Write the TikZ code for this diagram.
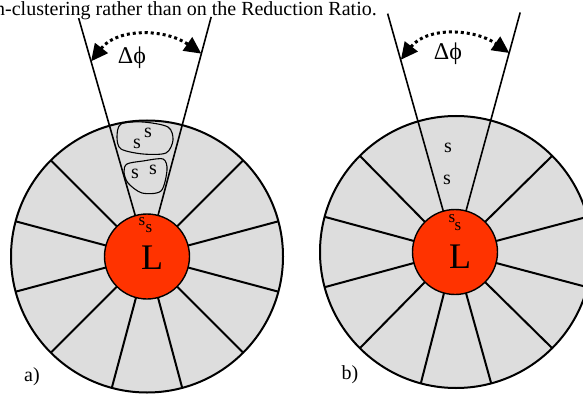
\documentclass[tikz,border=0pt]{standalone}
\usepackage{fontspec}
\setmainfont{Liberation Serif}
\usetikzlibrary{arrows.meta}
\definecolor{diskgray}{RGB}{221,221,221}
\definecolor{corered}{RGB}{255,51,0}
\tikzset{
  disk/.style={circle, draw, line width=2pt, fill=diskgray, minimum size=272pt, inner sep=0pt, outer sep=0pt},
  core/.style={circle, draw, line width=1.4pt, fill=corered, minimum size=85pt, inner sep=0pt, outer sep=0pt},
  spoke/.style={line width=2pt},
  wedge/.style={line width=1.6pt},
  blob/.style={line width=1.1pt},
  dphi/.style={line width=3pt, dash pattern=on 3pt off 3pt, {Triangle[length=17pt,width=16pt]}-{Triangle[length=17pt,width=16pt]}},
  txt/.style={font=\fontsize{20}{24}\selectfont, inner sep=0pt},
  dtxt/.style={font=\fontsize{24}{28}\selectfont, inner sep=0pt},
  stxt/.style={font=\fontsize{20}{22}\selectfont, inner sep=0pt},
  smalls/.style={font=\fontsize{17}{19}\selectfont, inner sep=0pt},
  bigL/.style={font=\fontsize{36}{40}\selectfont, inner sep=0pt}
}
\begin{document}
\begin{tikzpicture}[x=1pt,y=1pt]
\useasboundingbox (0,0) rectangle (583,394);
\clip (0,0) rectangle (583,394);

\node[txt, anchor=base west] (caption) at (-5,378) {n-clustering rather than on the Reduction Ratio.};

% ---------- panel a ----------
\node[disk] (diskA) at (147,137.5) {};
\node[core] (coreA) at (147,137.5) {};
\foreach \a in {15,45,135,165,195,225,255,285,315,345}
  \draw[spoke] (coreA.\a) -- (diskA.\a);
\coordinate (topAl) at ([shift={(106:248)}]diskA.center);
\coordinate (topAr) at ([shift={(75:248)}]diskA.center);
\draw[wedge] (coreA.106) -- (topAl);
\draw[wedge] (coreA.75) -- (topAr);
\coordinate (arrAl) at ([shift={(106:203)}]diskA.center);
\coordinate (arrAr) at ([shift={(75:210)}]diskA.center);
\draw[dphi] (arrAl) to[out=52,in=145] (arrAr);
\node[dtxt] (dphiA) at (132,336) {Δϕ};

\draw[blob] plot[smooth cycle] coordinates {(121,270) (143,272) (168,267) (173,254) (166,241) (143,240) (121,245) (117,257)};
\draw[blob] plot[smooth cycle] coordinates {(127,230) (143,233) (163,235) (167,224) (161,203) (142,201) (128,211) (124,222)};
\node[stxt] (sA1) at (137,250) {s};
\node[stxt] (sA2) at (148,261) {s};
\node[stxt] (sA3) at (135,220) {s};
\node[stxt] (sA4) at (153,224) {s};
\node[smalls] (sA5) at (142,172) {s};
\node[smalls] (sA6) at (149,165) {s};
\node[bigL] (LA) at (152,136) {L};
\node[txt] (labA) at (32,17) {a)};

% ---------- panel b ----------
\node[disk] (diskB) at (456,142) {};
\node[core] (coreB) at (455,142) {};
\foreach \a in {15,45,135,165,195,225,255,285,315,345}
  \draw[spoke] (coreB.\a) -- (diskB.\a);
\coordinate (topBl) at ([shift={(106:248)}]diskB.center);
\coordinate (topBr) at ([shift={(75:248)}]diskB.center);
\draw[wedge] (coreB.106) -- (topBl);
\draw[wedge] (coreB.75) -- (topBr);
\coordinate (arrBl) at ([shift={(106:200)}]diskB.center);
\coordinate (arrBr) at ([shift={(75:206)}]diskB.center);
\draw[dphi] (arrBl) to[out=52,in=145] (arrBr);
\node[dtxt] (dphiB) at (448,340) {Δϕ};

\node[stxt] (sB1) at (448,246) {s};
\node[stxt] (sB2) at (447,214) {s};
\node[smalls] (sB5) at (452,175) {s};
\node[smalls] (sB6) at (458,167) {s};
\node[bigL] (LB) at (460,137) {L};
\node[txt] (labB) at (350,19) {b)};
\end{tikzpicture}
\end{document}
